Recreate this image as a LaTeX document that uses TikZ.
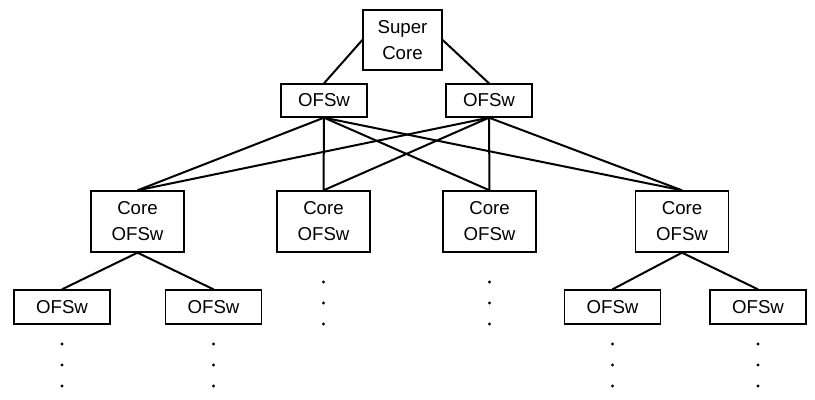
\documentclass[tikz,border=0pt]{standalone}
\usepackage{fontspec}
\setmainfont{Liberation Sans}
\begin{document}
\begin{tikzpicture}[x=0.75pt,y=-0.75pt,
  box/.style={draw, line width=1pt, inner sep=0pt, align=center, font=\fontsize{14}{19.5}\selectfont},
  supbox/.style={box, minimum width=59.25pt, minimum height=45pt},
  topbox/.style={box, minimum width=64.5pt, minimum height=24.75pt},
  corebox/.style={box, minimum width=69.75pt, minimum height=45.75pt},
  leafbox/.style={box, minimum width=72pt, minimum height=25.5pt},
  link/.style={line width=1.5pt},
  dotmark/.style={circle, fill, inner sep=0pt, minimum size=2.4pt}]
\useasboundingbox (0,0) rectangle (815,400);
\node[supbox] (sc) at (402.5,40) {Super\\Core};
\node[topbox] (t1) at (324,100.5) {OFSw};
\node[topbox] (t2) at (489,100.5) {OFSw};
\node[corebox] (c1) at (137.5,221.5) {Core\\OFSw};
\node[corebox] (c2) at (323.5,221.5) {Core\\OFSw};
\node[corebox] (c3) at (489.5,221.5) {Core\\OFSw};
\node[corebox] (c4) at (682,221.5) {Core\\OFSw};
\node[leafbox] (l1) at (62,307) {OFSw};
\node[leafbox] (l2) at (213.5,307) {OFSw};
\node[leafbox] (l3) at (612.5,307) {OFSw};
\node[leafbox] (l4) at (758,307) {OFSw};
\draw[link] (sc.west) -- (t1.north);
\draw[link] (sc.east) -- (t2.north);
\foreach \t in {t1,t2}{
  \foreach \c in {c1,c2,c3,c4}{
    \draw[link] (\t.south) -- (\c.north);
  }
}
\draw[link] (c1.south) -- (l1.north);
\draw[link] (c1.south) -- (l2.north);
\draw[link] (c4.south) -- (l3.north);
\draw[link] (c4.south) -- (l4.north);
\foreach \x/\n in {62/a,213.5/b,612.5/c,758/d}{
  \foreach \y/\m in {344/1,365/2,386/3}{
    \node[dotmark] (dot\n\m) at (\x,\y) {};
  }
}
\foreach \x/\n in {323.5/e,489.5/f}{
  \foreach \y/\m in {282/1,303/2,324/3}{
    \node[dotmark] (dot\n\m) at (\x,\y) {};
  }
}
\end{tikzpicture}
\end{document}
